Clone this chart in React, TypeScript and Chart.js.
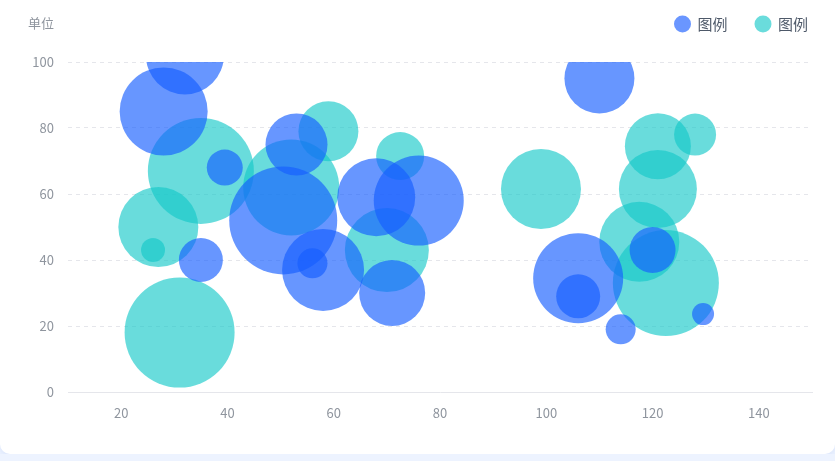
import React, { useEffect, useRef } from "react";
import { Chart, registerables } from "chart.js";

Chart.register(...registerables);

const seriesNames = ["图例", "图例"];
const seriesColors = ["rgba(22,93,255,0.65)", "rgba(20,201,201,0.64)"];
const legendColors = ["#6a96ff", "#6adcdc"];

// Series 1 (blue): x, y, radius
const blueX = [32, 28, 39.5, 35, 53, 50.5, 58, 56, 68, 76, 71, 110, 106, 106, 120, 114, 129.5];
const blueY = [102, 85, 68, 40, 75, 52, 37, 39, 59, 58, 30, 95, 34.5, 29, 43, 19, 23.6];
const blueR = [39, 44, 18, 22, 31, 54, 41, 15, 39, 45, 33, 35, 45, 22, 23, 15, 11];

// Series 2 (teal): x, y, radius
const tealX = [35, 27, 26, 31, 52, 59, 72.5, 70, 99, 121, 128, 121, 117.5, 122.5];
const tealY = [67, 50, 43, 18, 62, 79, 71.5, 43, 61.5, 74.5, 78, 61.5, 45.5, 33];
const tealR = [53, 40, 12, 55, 48, 30, 24, 42, 40, 33, 21, 39, 40, 53];

const xTicks = [20, 40, 60, 80, 100, 120, 140];
const yTicks = [0, 20, 40, 60, 80, 100];
const unitLabel = "单位";

const FONT = "'Noto Sans CJK SC', 'Noto Sans', sans-serif";
const LEGEND_BAND = 62;
const LEGEND_PAD = 28;

export default function App() {
  const canvasRef = useRef<HTMLCanvasElement | null>(null);

  useEffect(() => {
    document.body.style.margin = "0";
    document.body.style.background = "#edf3ff";
    const canvas = canvasRef.current;
    if (!canvas) return;

    const toPoints = (xs: number[], ys: number[], rs: number[]) =>
      xs.map((x, i) => ({ x, y: ys[i], r: rs[i] }));

    const layoutPlugin = {
      id: "legendBand",
      beforeLayout(chart: any) {
        const lg = chart.legend;
        if (lg && !lg.__patched) {
          const fit = lg.fit;
          lg.fit = function (this: any) {
            fit.call(this);
            this.height = LEGEND_BAND;
          };
          lg.__patched = true;
        }
      },
      afterLayout(chart: any) {
        const lg = chart.legend;
        if (lg) {
          const shiftX = 808 + LEGEND_PAD - lg.right;
          lg.left += shiftX;
          lg.right += shiftX;
          lg.top = 24 - LEGEND_PAD - 7.5;
        }
      },
      afterDraw(chart: any) {
        const { ctx, scales } = chart;
        const yScale = scales.y;
        ctx.save();
        ctx.font = `13px ${FONT}`;
        ctx.fillStyle = "#8f959e";
        ctx.textAlign = "right";
        ctx.textBaseline = "middle";
        ctx.fillText(unitLabel, yScale.right - 14, 23);
        ctx.restore();
      },
    };

    const chart = new Chart(canvas, {
      type: "bubble",
      data: {
        datasets: [
          {
            label: seriesNames[0],
            data: toPoints(blueX, blueY, blueR),
            backgroundColor: seriesColors[0],
            borderWidth: 0,
            clip: 0,
          } as any,
          {
            label: seriesNames[1],
            data: toPoints(tealX, tealY, tealR),
            backgroundColor: seriesColors[1],
            borderWidth: 0,
            clip: 0,
          } as any,
        ],
      },
      options: {
        animation: false,
        responsive: false,
        maintainAspectRatio: false,
        events: [],
        layout: { autoPadding: false, padding: { left: 0, right: 23, top: 0, bottom: 0 } },
        plugins: {
          tooltip: { enabled: false },
          legend: {
            position: "top",
            align: "end",
            labels: {
              usePointStyle: true,
              pointStyle: "circle",
              boxHeight: 12,
              padding: LEGEND_PAD,
              color: "#4e5969",
              font: { size: 15, family: FONT },
              generateLabels: (c: any) =>
                c.data.datasets.map((d: any, i: number) => ({
                  text: d.label,
                  fillStyle: legendColors[i],
                  strokeStyle: legendColors[i],
                  lineWidth: 0,
                  pointStyle: "circle",
                  hidden: false,
                  datasetIndex: i,
                  fontColor: "#4e5969",
                })),
            },
          },
        },
        scales: {
          x: {
            type: "linear",
            min: 10,
            max: 150,
            afterBuildTicks: (scale: any) => {
              scale.ticks = xTicks.map((v) => ({ value: v }));
            },
            afterFit: (scale: any) => {
              scale.height = 62;
            },
            grid: { display: false, drawTicks: false },
            border: { display: true, color: "#e5e6eb", width: 1 },
            ticks: {
              padding: 13,
              color: "#8f959e",
              font: { size: 13, family: FONT },
            },
          },
          y: {
            type: "linear",
            min: 0,
            max: 100,
            afterBuildTicks: (scale: any) => {
              scale.ticks = yTicks.map((v) => ({ value: v }));
            },
            afterFit: (scale: any) => {
              scale.width = 68;
            },
            grid: {
              drawTicks: false,
              color: (ctx: any) => (ctx.tick && ctx.tick.value === 0 ? "rgba(0,0,0,0)" : "#e5e6eb"),
              lineWidth: 1,
            },
            border: { display: false, dash: [4, 4] },
            ticks: {
              padding: 14,
              color: "#8f959e",
              font: { size: 13, family: FONT },
            },
          },
        },
      },
      plugins: [layoutPlugin],
    } as any);

    return () => chart.destroy();
  }, []);

  return (
    <div
      style={{
        width: 835,
        height: 454,
        background: "#ffffff",
        borderRadius: "0 0 10px 10px",
        boxShadow: "0 2px 6px rgba(180,200,240,0.35)",
      }}
    >
      <canvas ref={canvasRef} width={835} height={454} style={{ display: "block" }} />
    </div>
  );
}
